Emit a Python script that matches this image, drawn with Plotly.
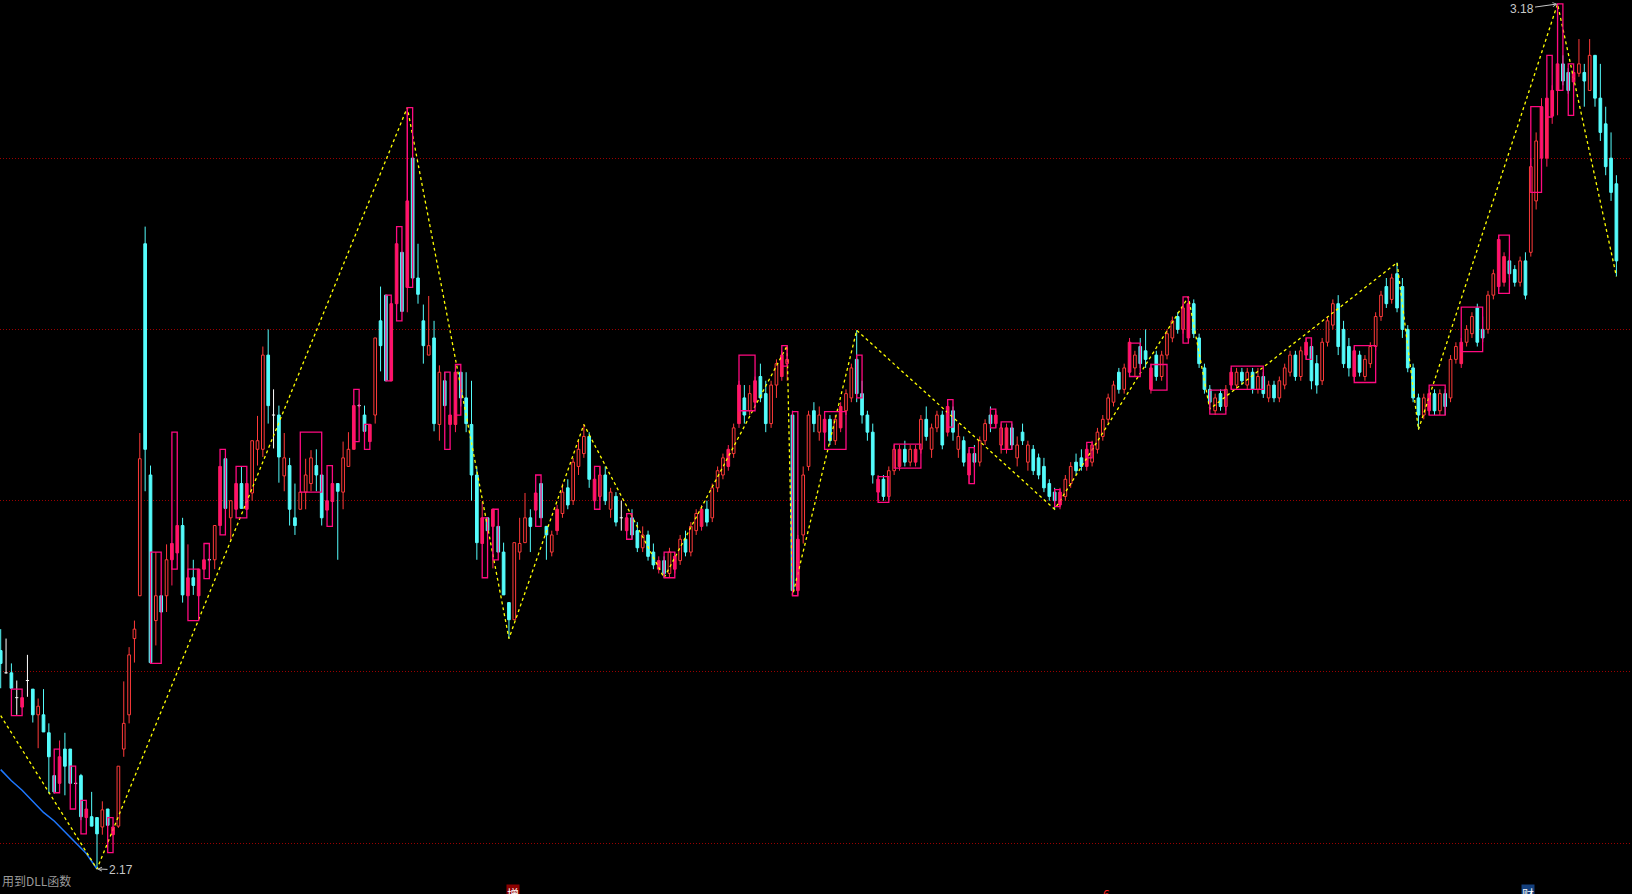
import plotly.graph_objects as go

# ---------------- data (price units, one entry per trading day) ----------------
opens = [2.425,2.399,2.399,2.370,2.359,2.390,2.380,2.350,2.350,2.329,2.279,2.270,2.310,2.310,2.270,2.279,2.230,2.231,2.230,2.219,
         2.240,2.210,2.220,2.310,2.350,2.439,2.489,2.900,2.630,2.460,2.489,2.489,2.531,2.539,2.571,2.489,2.510,2.489,2.520,2.531,
         2.531,2.571,2.649,2.580,2.590,2.620,2.590,2.609,2.660,2.660,2.770,2.700,2.700,2.629,2.641,2.580,2.590,2.610,2.620,2.641,
         2.630,2.589,2.599,2.620,2.610,2.640,2.660,2.711,2.700,2.669,2.700,2.810,2.840,2.740,2.830,2.890,2.849,3.000,2.860,2.810,
         2.770,2.790,2.689,2.740,2.689,2.689,2.750,2.720,2.689,2.630,2.550,2.580,2.570,2.570,2.540,2.481,2.461,2.540,2.551,2.580,
         2.589,2.620,2.570,
         2.540,2.565,2.585,2.615,2.600,2.640,2.655,2.675,2.600,2.605,
         2.630,2.590,2.605,2.580,2.565,2.580,2.565,2.545,2.560,2.540,
         2.520,2.530,2.515,2.520,2.530,2.555,2.540,2.565,2.570,2.590,
         2.580,2.615,2.630,2.640,2.655,2.690,2.720,2.705,2.715,2.745,
         2.725,2.690,2.735,2.745,2.760,2.700,2.495,2.560,2.640,2.705,
         2.680,2.680,2.695,2.670,2.685,2.705,2.720,2.765,2.725,2.700,
         2.680,2.610,2.625,2.605,2.635,2.640,2.660,2.645,2.645,2.660,
         2.695,2.660,2.685,2.700,2.680,2.705,2.660,2.670,2.630,2.655,
         2.645,2.670,2.700,2.690,2.665,2.660,2.685,2.650,2.680,2.645,
         2.660,2.650,2.640,2.620,2.610,2.595,2.605,2.620,2.645,2.650,
         2.640,2.645,2.660,2.675,2.695,2.715,2.750,2.730,2.750,2.755,
         2.780,2.775,2.730,2.770,2.745,2.770,2.790,2.815,2.800,2.790,
         2.830,2.790,2.755,2.730,2.705,2.725,2.710,2.735,2.735,2.750,
         2.735,2.750,2.730,2.745,2.720,2.735,2.720,2.735,2.750,2.770,
         2.745,2.770,2.780,2.760,2.740,2.785,2.805,2.830,2.800,2.780,
         2.745,2.770,2.745,2.760,2.780,2.815,2.850,2.835,2.865,2.850,
         2.800,2.755,2.720,2.700,2.705,2.725,2.705,2.725,2.720,2.765,
         2.760,2.785,2.795,2.825,2.800,2.800,2.840,2.850,2.855,2.880,
         2.870,2.855,2.880,2.890,2.950,3.000,3.000,3.049,3.079,3.110,
         3.100,3.089,3.099,3.100,3.079,3.120,3.070,3.040,3.000,2.970]
highs = [2.450,2.439,2.410,2.390,2.370,2.420,2.380,2.369,2.380,2.340,2.279,2.320,2.329,2.310,2.272,2.281,2.240,2.260,2.230,2.249,
         2.240,2.219,2.290,2.389,2.429,2.460,2.679,2.920,2.641,2.540,2.489,2.549,2.550,2.571,2.580,2.549,2.531,2.520,2.531,2.533,
         2.571,2.640,2.649,2.600,2.620,2.640,2.620,2.670,2.699,2.780,2.800,2.730,2.711,2.679,2.650,2.620,2.610,2.649,2.659,2.660,
         2.630,2.600,2.620,2.620,2.669,2.680,2.711,2.713,2.711,2.689,2.790,2.850,2.840,2.830,2.900,2.890,3.059,3.000,2.900,2.829,
         2.839,2.810,2.758,2.750,2.700,2.750,2.750,2.750,2.740,2.640,2.599,2.580,2.590,2.570,2.551,2.481,2.551,2.580,2.609,2.590,
         2.609,2.620,2.570,
         2.565,2.595,2.620,2.625,2.650,2.670,2.689,2.680,2.630,2.640,
         2.640,2.615,2.610,2.600,2.585,2.590,2.575,2.570,2.565,2.550,
         2.535,2.535,2.545,2.540,2.560,2.565,2.575,2.590,2.595,2.600,
         2.620,2.640,2.655,2.665,2.690,2.740,2.735,2.735,2.745,2.760,
         2.740,2.740,2.765,2.775,2.781,2.705,2.560,2.640,2.705,2.715,
         2.710,2.700,2.700,2.700,2.715,2.730,2.760,2.799,2.740,2.705,
         2.690,2.630,2.630,2.640,2.665,2.665,2.670,2.665,2.665,2.700,
         2.710,2.690,2.705,2.705,2.715,2.710,2.690,2.675,2.660,2.665,
         2.675,2.695,2.710,2.705,2.690,2.690,2.690,2.675,2.690,2.670,
         2.665,2.655,2.650,2.625,2.615,2.615,2.630,2.645,2.655,2.660,
         2.665,2.670,2.685,2.700,2.725,2.740,2.755,2.760,2.790,2.775,
         2.790,2.800,2.760,2.775,2.775,2.800,2.815,2.820,2.830,2.838,
         2.835,2.795,2.760,2.735,2.725,2.730,2.735,2.755,2.755,2.755,
         2.755,2.755,2.755,2.750,2.740,2.740,2.745,2.760,2.775,2.775,
         2.780,2.790,2.790,2.770,2.790,2.815,2.835,2.840,2.810,2.790,
         2.780,2.775,2.770,2.785,2.820,2.845,2.860,2.865,2.878,2.860,
         2.805,2.760,2.725,2.725,2.730,2.730,2.730,2.730,2.770,2.785,
         2.790,2.805,2.820,2.830,2.815,2.845,2.870,2.910,2.890,2.885,
         2.875,2.885,2.890,3.000,3.030,3.070,3.070,3.085,3.180,3.120,
         3.105,3.100,3.139,3.110,3.139,3.120,3.110,3.060,3.030,2.980]
lows = [2.381,2.398,2.381,2.350,2.359,2.371,2.341,2.311,2.330,2.258,2.258,2.270,2.256,2.270,2.268,2.227,2.230,2.220,2.170,2.210,
        2.221,2.210,2.218,2.301,2.340,2.411,2.489,2.611,2.411,2.431,2.470,2.470,2.501,2.539,2.481,2.489,2.490,2.489,2.520,2.529,
        2.520,2.571,2.591,2.554,2.590,2.591,2.590,2.600,2.641,2.651,2.690,2.661,2.621,2.611,2.571,2.560,2.590,2.590,2.611,2.611,
        2.571,2.589,2.599,2.531,2.590,2.640,2.660,2.709,2.681,2.669,2.690,2.751,2.740,2.740,2.830,2.821,2.820,2.860,2.830,2.760,
        2.770,2.681,2.670,2.711,2.689,2.680,2.710,2.680,2.600,2.531,2.550,2.560,2.521,2.540,2.490,2.439,2.461,2.531,2.551,2.540,
        2.589,2.580,2.531,
        2.535,2.560,2.580,2.590,2.595,2.630,2.650,2.615,2.595,2.600,
        2.595,2.580,2.570,2.565,2.560,2.555,2.540,2.540,2.530,2.520,
        2.515,2.510,2.510,2.515,2.525,2.535,2.535,2.560,2.565,2.570,
        2.575,2.610,2.625,2.635,2.650,2.685,2.690,2.700,2.710,2.715,
        2.680,2.685,2.720,2.740,2.740,2.489,2.489,2.550,2.635,2.680,
        2.670,2.670,2.665,2.665,2.680,2.700,2.715,2.715,2.690,2.670,
        2.620,2.600,2.600,2.600,2.630,2.635,2.640,2.640,2.640,2.655,
        2.670,2.650,2.680,2.660,2.675,2.670,2.650,2.640,2.620,2.640,
        2.640,2.665,2.680,2.685,2.655,2.655,2.660,2.640,2.665,2.635,
        2.630,2.625,2.610,2.600,2.590,2.590,2.600,2.615,2.630,2.635,
        2.635,2.640,2.655,2.670,2.690,2.710,2.725,2.725,2.745,2.745,
        2.755,2.755,2.725,2.740,2.740,2.765,2.785,2.795,2.795,2.785,
        2.790,2.755,2.725,2.707,2.700,2.705,2.705,2.730,2.730,2.735,
        2.730,2.725,2.725,2.720,2.715,2.715,2.715,2.730,2.745,2.740,
        2.740,2.765,2.730,2.725,2.735,2.780,2.800,2.770,2.755,2.745,
        2.740,2.745,2.740,2.755,2.775,2.810,2.825,2.830,2.820,2.790,
        2.750,2.715,2.683,2.695,2.700,2.700,2.700,2.700,2.715,2.760,
        2.755,2.780,2.790,2.780,2.785,2.795,2.835,2.845,2.850,2.860,
        2.850,2.850,2.835,2.885,2.940,2.990,2.990,3.040,3.050,3.085,
        3.075,3.085,3.095,3.060,3.079,3.060,3.020,2.980,2.950,2.862]
closes = [2.410,2.399,2.381,2.370,2.370,2.390,2.350,2.360,2.330,2.301,2.260,2.301,2.290,2.270,2.270,2.231,2.240,2.220,2.211,2.239,
          2.221,2.219,2.290,2.340,2.420,2.450,2.649,2.660,2.411,2.489,2.470,2.531,2.550,2.571,2.490,2.510,2.501,2.520,2.531,2.531,
          2.571,2.640,2.591,2.600,2.620,2.591,2.620,2.670,2.670,2.770,2.711,2.700,2.651,2.650,2.590,2.571,2.610,2.630,2.650,2.630,
          2.580,2.600,2.620,2.611,2.650,2.660,2.711,2.711,2.681,2.689,2.790,2.781,2.740,2.830,2.900,2.821,2.950,2.860,2.841,2.781,
          2.781,2.690,2.750,2.711,2.700,2.750,2.720,2.690,2.630,2.551,2.580,2.565,2.590,2.540,2.490,2.461,2.551,2.550,2.580,2.570,
          2.609,2.580,2.560,
          2.560,2.590,2.610,2.595,2.645,2.660,2.675,2.625,2.625,2.630,
          2.600,2.610,2.575,2.580,2.580,2.560,2.545,2.560,2.535,2.525,
          2.530,2.515,2.540,2.535,2.555,2.540,2.570,2.585,2.590,2.575,
          2.615,2.635,2.650,2.660,2.685,2.735,2.700,2.725,2.740,2.720,
          2.690,2.735,2.760,2.770,2.765,2.495,2.555,2.630,2.700,2.690,
          2.700,2.695,2.670,2.695,2.710,2.725,2.755,2.725,2.700,2.680,
          2.630,2.625,2.605,2.635,2.660,2.660,2.645,2.660,2.660,2.695,
          2.675,2.685,2.700,2.665,2.710,2.680,2.675,2.645,2.655,2.645,
          2.670,2.690,2.690,2.700,2.685,2.685,2.665,2.665,2.670,2.665,
          2.635,2.630,2.615,2.605,2.600,2.610,2.625,2.640,2.635,2.640,
          2.660,2.665,2.680,2.695,2.720,2.735,2.730,2.755,2.785,2.770,
          2.760,2.765,2.755,2.745,2.770,2.795,2.810,2.800,2.825,2.830,
          2.795,2.760,2.730,2.715,2.720,2.710,2.730,2.750,2.750,2.740,
          2.750,2.730,2.745,2.725,2.735,2.720,2.740,2.755,2.770,2.745,
          2.775,2.785,2.740,2.735,2.785,2.810,2.830,2.780,2.760,2.755,
          2.775,2.750,2.765,2.780,2.815,2.840,2.830,2.860,2.825,2.800,
          2.755,2.720,2.700,2.720,2.725,2.705,2.725,2.710,2.765,2.780,
          2.785,2.800,2.815,2.785,2.790,2.840,2.865,2.905,2.885,2.865,
          2.855,2.880,2.840,2.990,3.020,3.060,3.070,3.079,3.110,3.090,
          3.079,3.100,3.110,3.090,3.120,3.070,3.030,2.990,2.960,2.880]
# u = hollow red (up), f = filled red, d = cyan (down), w = white doji; 10 days per row
style_rows = ["dwdwfwdudd", "dfddwdfddu", "dfuuuuuddu", "duffdfdffw", "ufdufdfuuu",
              "dwdudduuud", "dffduufwdf", "uddffdfddd", "ududffdddd", "fdfddduuud",
              "fddufuduuu", "dfududwfdd", "uddfdufudu", "ufduuufufd", "ufdduufudf",
              "uudufdufuu", "ddddfduufd", "ufuduudfdu", "dfduudfufd", "ududddddfu",
              "uddfuuuuud", "ufuddfduuu", "dufddddudu", "fududududu", "uudufdduuu",
              "dddfduuuud", "udddddufdu", "duufuudduu", "ffdduduuff", "ffddfududd",
              "ddd"]
styles = list("".join(style_rows))

box_start = [2,10,13,15,20,28,32,35,38,41,44,56,61,66,68,72,74,76,83,85,90,92,100,
             111,117,124,138,146,148,154,160,164,167,177,181,185,187,197,203,211,215,221,226,230,244,253,267,273,280,286,289,291,293]
box_end   = [4,11,14,16,21,30,33,37,39,42,46,60,62,67,69,73,75,77,84,86,91,93,101,
             112,118,126,141,147,149,158,161,166,172,178,182,186,189,198,204,213,218,222,229,236,245,257,270,277,282,288,290,292,294]
box_top   = [2.380,2.310,2.290,2.250,2.230,2.540,2.680,2.520,2.550,2.660,2.640,2.680,2.641,2.730,2.689,2.840,2.920,3.059,2.750,2.759,2.580,2.590,2.630,
             2.640,2.585,2.540,2.770,2.781,2.704,2.704,2.770,2.628,2.666,2.718,2.662,2.707,2.692,2.613,2.668,2.784,2.759,2.838,2.729,2.757,2.790,2.781,2.735,2.826,2.910,3.060,3.120,3.180,3.110]
box_bot   = [2.349,2.259,2.240,2.211,2.189,2.410,2.520,2.460,2.509,2.560,2.580,2.610,2.570,2.669,2.660,2.740,2.810,2.849,2.660,2.700,2.510,2.531,2.570,
             2.590,2.555,2.510,2.705,2.757,2.489,2.660,2.720,2.598,2.638,2.686,2.620,2.685,2.660,2.593,2.650,2.745,2.729,2.784,2.701,2.730,2.765,2.738,2.700,2.774,2.842,2.960,3.048,3.079,3.050]

zz_idx = [0, 18, 76, 95, 109, 124, 147, 148, 160, 197, 222, 226, 261, 265, 291, 302]
zz_val = [2.349, 2.170, 3.059, 2.439, 2.689, 2.510, 2.781, 2.489, 2.799, 2.590, 2.838, 2.707, 2.878, 2.683, 3.180, 2.862]

line_idx = [0, 2, 4, 6, 8, 10, 12, 14, 16, 18]
line_val = [2.286, 2.273, 2.262, 2.249, 2.236, 2.226, 2.213, 2.201, 2.188, 2.170]

grid_levels = [2.2, 2.4, 2.6, 2.8, 3.0]

# ---------------- figure ----------------
RED = "#FF3A3A"
FRED = "#FF1E5A"
CYAN = "#54FCFC"
WHITE = "#FFFFFF"
MAG = "#FF0A80"
BW = 0.5

fig = go.Figure()

for s, e, t, b in zip(box_start, box_end, box_top, box_bot):
    fig.add_shape(type="rect", xref="x", yref="y", x0=s, x1=e, y0=b, y1=t,
                  line=dict(color=MAG, width=1.3), fillcolor="rgba(0,0,0,0)", layer="above")

def wick_trace(style, color):
    xs, ys = [], []
    for i, (o, h, l, c, st) in enumerate(zip(opens, highs, lows, closes, styles)):
        if st != style:
            continue
        if st == "u":
            xs += [i, i, None, i, i, None]
            ys += [l, min(o, c), None, max(o, c), h, None]
        else:
            xs += [i, i, None]
            ys += [l, h, None]
    return go.Scatter(x=xs, y=ys, mode="lines", line=dict(color=color, width=1),
                      hoverinfo="skip", showlegend=False)

for st, col in [("u", RED), ("f", FRED), ("d", CYAN), ("w", WHITE)]:
    fig.add_trace(wick_trace(st, col))

def body_trace(style, fill, line):
    xs, base, hgt = [], [], []
    for i, (o, c, st) in enumerate(zip(opens, closes, styles)):
        if st != style:
            continue
        lo, hi = min(o, c), max(o, c)
        xs.append(i)
        base.append(lo)
        hgt.append(max(hi - lo, 0.0012))
    return go.Bar(x=xs, y=hgt, base=base, width=BW, marker=dict(color=fill, line=dict(color=line, width=1)),
                  hoverinfo="skip", showlegend=False)

fig.add_trace(body_trace("u", "#000000", RED))
fig.add_trace(body_trace("f", FRED, FRED))
fig.add_trace(body_trace("d", CYAN, CYAN))

dx, dy = [], []
for i, (o, st) in enumerate(zip(opens, styles)):
    if st == "w":
        dx += [i - 0.3, i + 0.3, None]
        dy += [o, o, None]
fig.add_trace(go.Scatter(x=dx, y=dy, mode="lines", line=dict(color=WHITE, width=1), hoverinfo="skip", showlegend=False))

fig.add_trace(go.Scatter(x=line_idx, y=line_val, mode="lines", line=dict(color="#1E78FF", width=1.5),
                         hoverinfo="skip", showlegend=False))

fig.add_trace(go.Scatter(x=zz_idx, y=zz_val, mode="lines", line=dict(color="#FFFF00", width=1.3, dash="3px,3px"),
                         hoverinfo="skip", showlegend=False))

hi_i = zz_idx[zz_val.index(max(zz_val))]
lo_i = zz_idx[zz_val.index(min(zz_val))]
fig.add_annotation(x=hi_i, y=max(zz_val), text=f"{max(zz_val):.2f}", showarrow=True, ax=-36, ay=5,
                   arrowhead=5, arrowsize=0.8, arrowwidth=1, arrowcolor="#C8C8C8",
                   font=dict(family="Liberation Sans, Arial", size=12, color="#C8C8C8"), xanchor="center")
fig.add_annotation(x=lo_i, y=min(zz_val), text=f"{min(zz_val):.2f}", showarrow=True, ax=24, ay=1,
                   arrowhead=5, arrowsize=0.8, arrowwidth=1, arrowcolor="#C8C8C8",
                   font=dict(family="Liberation Sans, Arial", size=12, color="#C8C8C8"), xanchor="center")
fig.add_annotation(xref="paper", yref="paper", x=0, y=(894 - 870) / 894, text="用到DLL函数", showarrow=False,
                   xanchor="left", yanchor="top", font=dict(family="Noto Sans CJK SC", size=12, color="#9A9A9A"))
for xi, txt, fc, bg in [(95.7, "增", "#FFFFFF", "#8C0000"), (206.6, "6", "#FF2020", "rgba(0,0,0,0)"),
                        (285.5, "财", "#FFFFFF", "#14407E")]:
    fig.add_annotation(x=xi, xref="x", yref="paper", y=(894 - 884) / 894, text=txt, showarrow=False,
                       xanchor="center", yanchor="top", bgcolor=bg, borderpad=0,
                       font=dict(family="Noto Sans CJK SC", size=12, color=fc))

X0 = -0.7 / 5.35
fig.update_layout(
    width=1632, height=894, margin=dict(l=0, r=0, t=0, b=0),
    paper_bgcolor="#000000", plot_bgcolor="#000000",
    barmode="overlay", showlegend=False, hovermode=False,
    xaxis=dict(range=[X0, X0 + 1632 / 5.35], showgrid=False, zeroline=False, showticklabels=False, fixedrange=True),
    yaxis=dict(range=[3.1846 - 0.0011676 * 894, 3.1846], tickvals=grid_levels, showgrid=True, gridcolor="#9A0000",
               griddash="1px,2px", gridwidth=1, zeroline=False, showticklabels=False, fixedrange=True),
)

fig.write_html("out.html", config={"displayModeBar": False},
               post_script="document.body.style.margin='0';document.body.style.overflow='hidden';")
